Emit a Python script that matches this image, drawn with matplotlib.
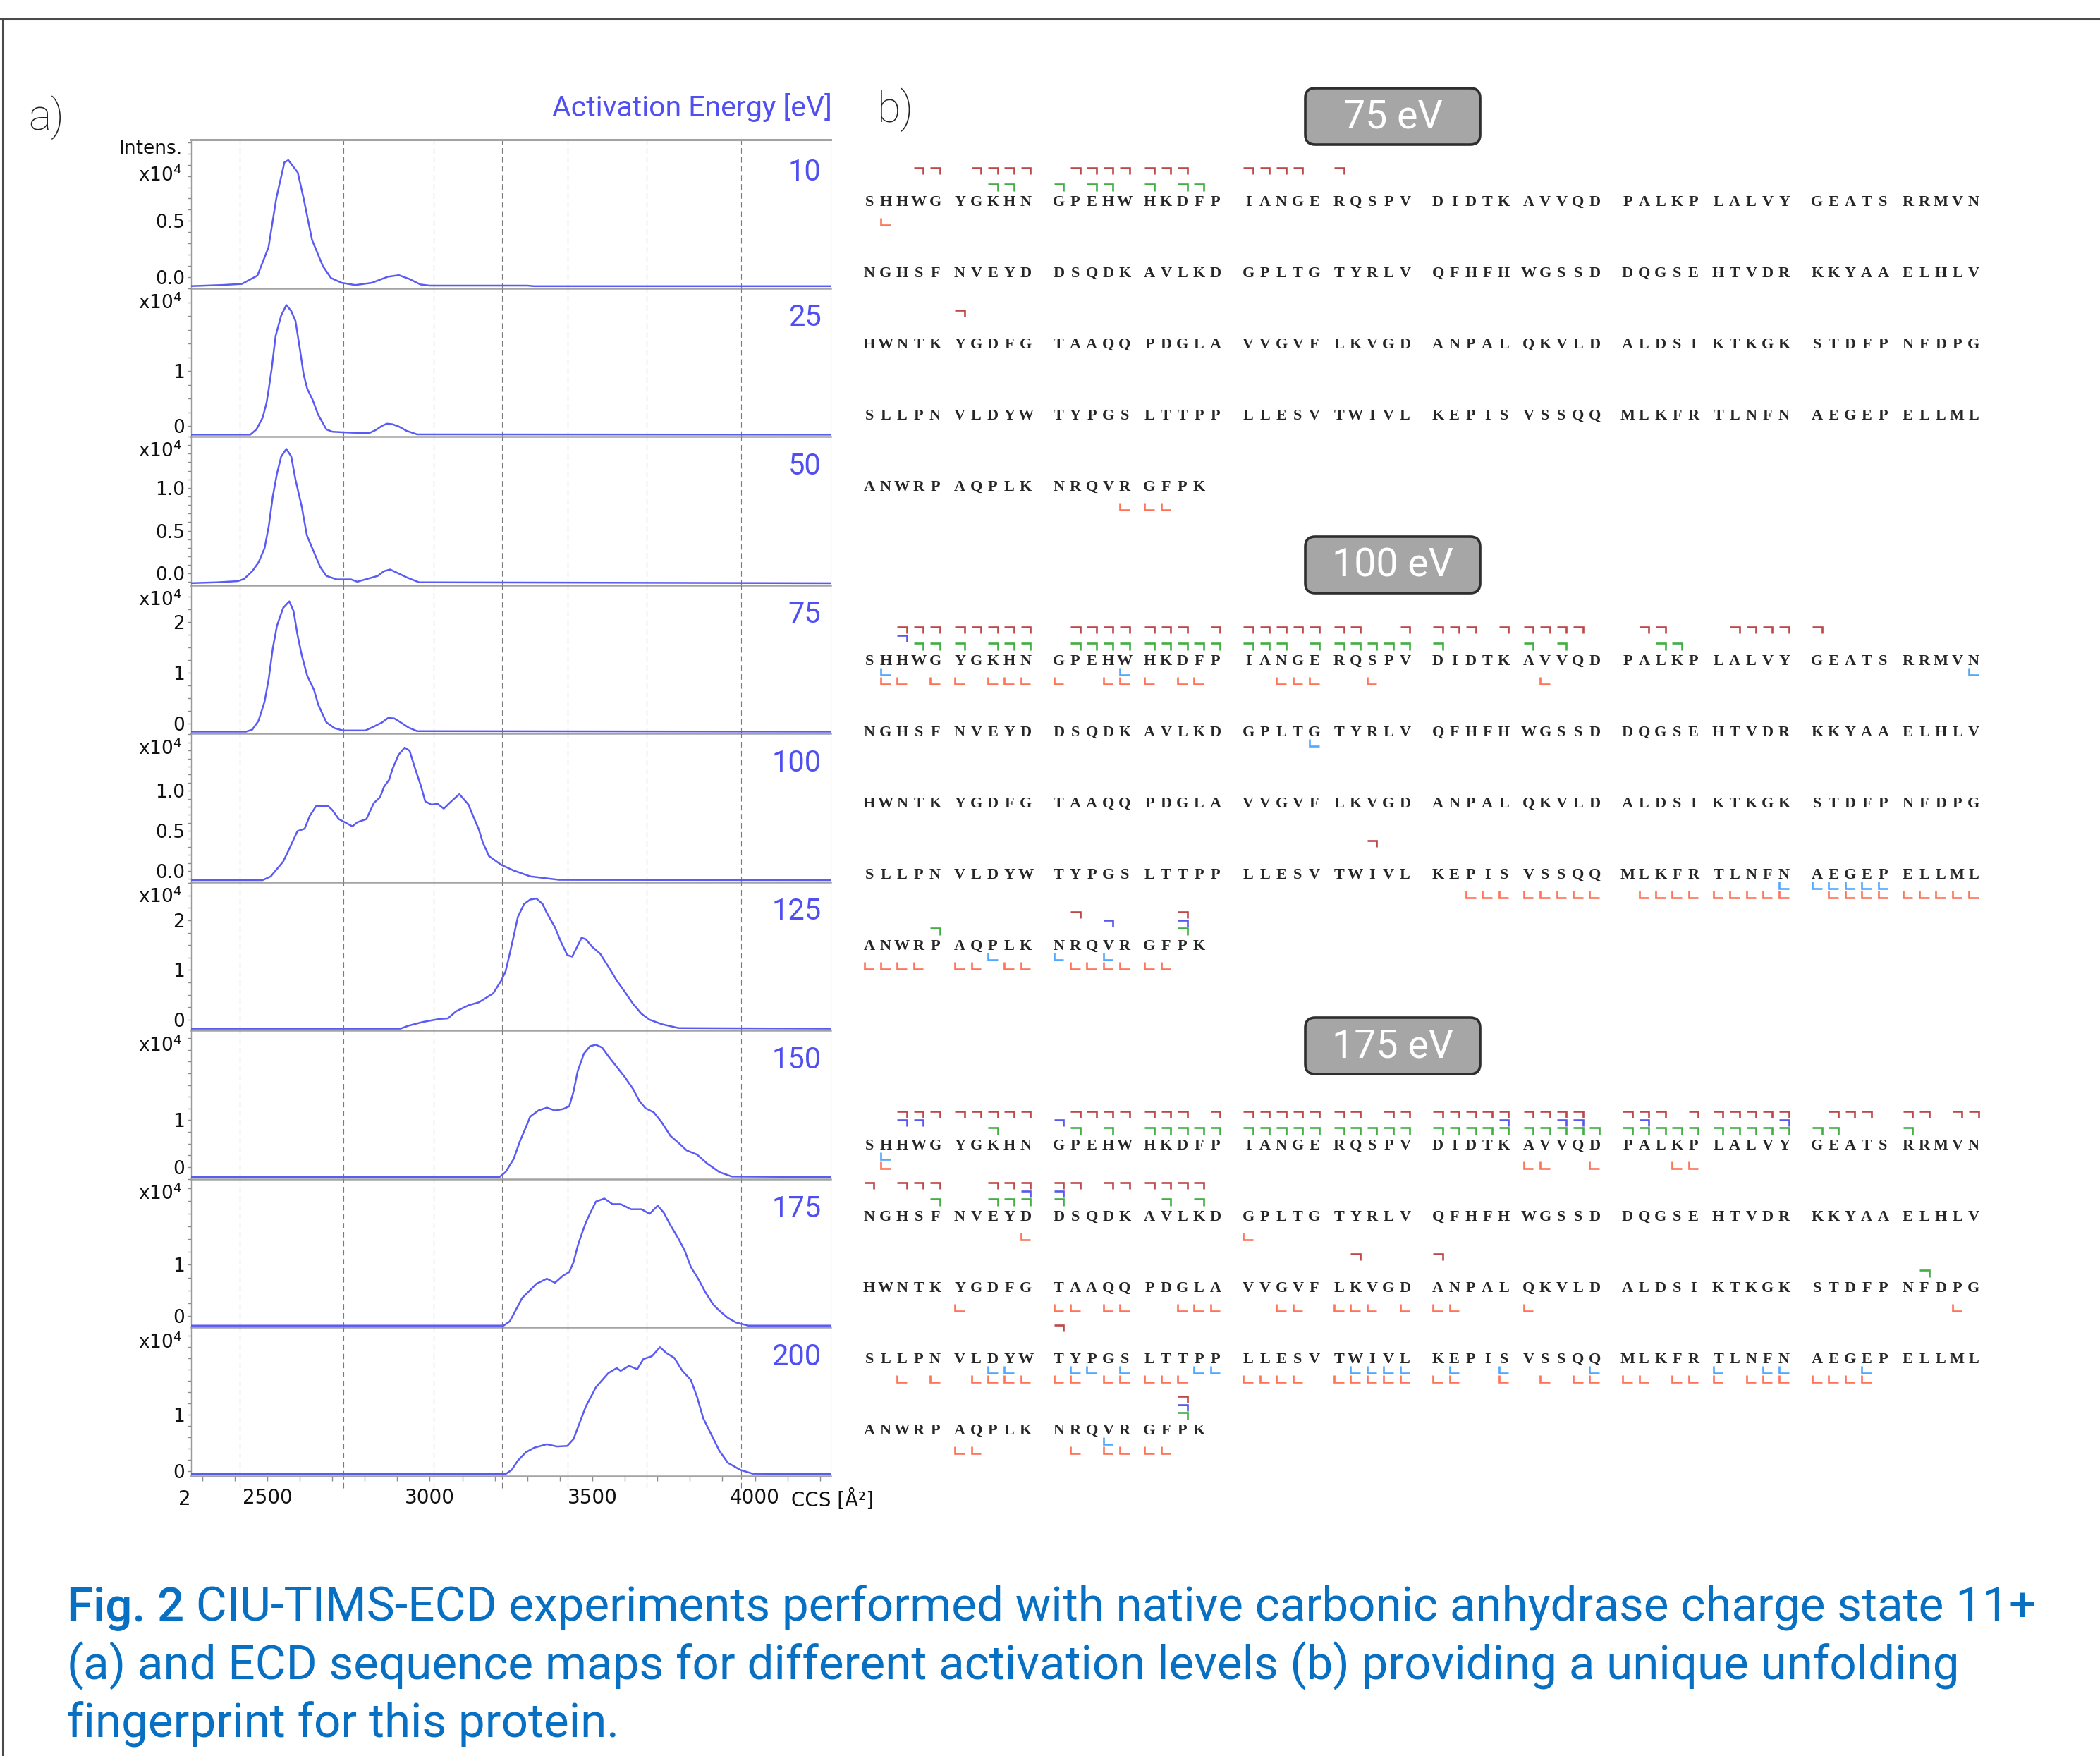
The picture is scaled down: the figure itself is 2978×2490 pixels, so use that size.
import numpy as np
import matplotlib
matplotlib.use("Agg")
import matplotlib.pyplot as plt
from matplotlib.collections import LineCollection
from matplotlib.patches import FancyBboxPatch
from matplotlib.lines import Line2D
from matplotlib.ticker import MultipleLocator

W, H = 2978, 2490
plt.rcParams['mathtext.default'] = 'regular'

# ---------------- a) CIU traces: CCS [A^2] / intensity above trace baseline [x1e4]
energies = [10, 25, 50, 75, 100, 125, 150, 175, 200]

ccs_10 = [2260, 2360, 2422, 2470, 2504, 2528, 2553, 2565, 2594, 2612, 2638, 2671,
          2696, 2729, 2771, 2822, 2871, 2905, 2938, 2971, 3000, 3300, 3320, 4240]
int_10 = [0, 0.01, 0.02, 0.094, 0.345, 0.78, 1.10, 1.12, 1.01, 0.78, 0.41, 0.18,
          0.073, 0.03, 0.01, 0.03, 0.084, 0.098, 0.063, 0.015, 0.005, 0.005, 0, 0]

ccs_25 = [2260, 2448, 2467, 2486, 2498, 2505, 2514, 2526, 2543, 2559, 2574, 2587,
          2600, 2612, 2623, 2640, 2657, 2682, 2701, 2733, 2777, 2815, 2834, 2853,
          2868, 2885, 2904, 2929, 2961, 4240]
int_25 = [0, 0, 0.096, 0.31, 0.58, 0.84, 1.21, 1.80, 2.17, 2.36, 2.25, 2.07,
          1.58, 1.10, 0.84, 0.63, 0.36, 0.096, 0.053, 0.043, 0.032, 0.032, 0.085, 0.16,
          0.20, 0.19, 0.15, 0.069, 0.005, 0]

ccs_50 = [2260, 2346, 2410, 2429, 2454, 2473, 2492, 2505, 2517, 2530, 2543, 2559,
          2574, 2587, 2606, 2622, 2644, 2663, 2682, 2714, 2758, 2777, 2802, 2840,
          2859, 2878, 2897, 2929, 2967, 4240]
int_50 = [0, 0.01, 0.024, 0.05, 0.14, 0.24, 0.41, 0.67, 1.01, 1.28, 1.48, 1.57,
          1.48, 1.21, 0.90, 0.56, 0.36, 0.19, 0.085, 0.044, 0.044, 0.017, 0.044, 0.085,
          0.14, 0.16, 0.126, 0.068, 0.01, 0]

ccs_75 = [2260, 2435, 2454, 2473, 2492, 2505, 2517, 2530, 2549, 2568, 2581, 2593,
          2606, 2623, 2644, 2657, 2682, 2707, 2733, 2802, 2828, 2853, 2872, 2891,
          2910, 2935, 2961, 4240]
int_75 = [0, 0, 0.04, 0.21, 0.59, 1.05, 1.63, 2.08, 2.43, 2.56, 2.37, 1.91,
          1.51, 1.10, 0.82, 0.53, 0.184, 0.069, 0.023, 0.023, 0.10, 0.18, 0.27, 0.26,
          0.184, 0.08, 0.01, 0]

ccs_100 = [2260, 2486, 2511, 2549, 2568, 2593, 2615, 2631, 2650, 2688, 2701, 2720,
           2739, 2762, 2777, 2805, 2828, 2847, 2859, 2875, 2885, 2904, 2923, 2938,
           2954, 2973, 2986, 3005, 3024, 3043, 3066, 3091, 3119, 3132, 3151, 3163,
           3182, 3220, 3258, 3309, 3360, 3398, 4240]
int_100 = [0, 0, 0.047, 0.23, 0.39, 0.61, 0.64, 0.80, 0.92, 0.92, 0.87, 0.76,
           0.72, 0.67, 0.72, 0.76, 0.96, 1.03, 1.16, 1.25, 1.38, 1.56, 1.65, 1.61,
           1.40, 1.17, 0.98, 0.94, 0.95, 0.89, 0.98, 1.07, 0.94, 0.81, 0.63, 0.47,
           0.30, 0.19, 0.12, 0.047, 0.022, 0.004, 0]

ccs_125 = [2260, 2910, 2935, 2980, 3030, 3056, 3081, 3119, 3151, 3195, 3220, 3233,
           3246, 3258, 3271, 3290, 3309, 3328, 3347, 3360, 3385, 3404, 3423, 3438,
           3451, 3467, 3480, 3499, 3524, 3550, 3575, 3600, 3625, 3651, 3676, 3714,
           3765, 4240]
int_125 = [0, 0, 0.06, 0.136, 0.195, 0.207, 0.35, 0.47, 0.53, 0.71, 0.97, 1.15,
           1.51, 1.86, 2.25, 2.51, 2.60, 2.62, 2.51, 2.33, 2.04, 1.74, 1.48, 1.45,
           1.62, 1.83, 1.80, 1.65, 1.51, 1.24, 0.97, 0.74, 0.50, 0.30, 0.18, 0.089,
           0.012, 0]

ccs_150 = [2260, 3214, 3233, 3258, 3277, 3296, 3309, 3334, 3360, 3385, 3410, 3429,
           3442, 3455, 3474, 3493, 3511, 3530, 3550, 3575, 3600, 3625, 3644, 3663,
           3689, 3714, 3740, 3765, 3790, 3822, 3853, 3891, 3929, 4240]
int_150 = [0, 0, 0.106, 0.387, 0.76, 1.07, 1.29, 1.42, 1.48, 1.42, 1.45, 1.51,
           1.82, 2.26, 2.63, 2.79, 2.82, 2.76, 2.57, 2.35, 2.13, 1.88, 1.63, 1.47,
           1.38, 1.16, 0.88, 0.73, 0.57, 0.48, 0.29, 0.106, 0.012, 0]

ccs_175 = [2260, 3227, 3246, 3265, 3284, 3303, 3328, 3360, 3385, 3410, 3429, 3442,
           3455, 3467, 3480, 3493, 3511, 3537, 3562, 3587, 3619, 3651, 3676, 3701,
           3720, 3739, 3765, 3784, 3803, 3828, 3847, 3872, 3891, 3917, 3942, 3980, 4240]
int_175 = [0, 0, 0.083, 0.31, 0.54, 0.66, 0.82, 0.92, 0.84, 0.98, 1.05, 1.24,
           1.56, 1.79, 2.02, 2.20, 2.43, 2.49, 2.38, 2.38, 2.28, 2.28, 2.19, 2.35,
           2.21, 1.98, 1.70, 1.47, 1.15, 0.89, 0.66, 0.41, 0.29, 0.15, 0.06, 0, 0]

ccs_200 = [2260, 3233, 3252, 3271, 3296, 3322, 3360, 3391, 3423, 3442, 3461, 3480,
           3511, 3549, 3575, 3587, 3613, 3638, 3657, 3683, 3708, 3727, 3752, 3777,
           3803, 3822, 3841, 3866, 3891, 3917, 3955, 3993, 4240]
int_200 = [0, 0, 0.075, 0.24, 0.39, 0.47, 0.53, 0.49, 0.50, 0.62, 0.91, 1.20,
           1.54, 1.79, 1.88, 1.83, 1.92, 1.86, 2.04, 2.09, 2.25, 2.15, 2.06, 1.83,
           1.67, 1.37, 0.99, 0.70, 0.41, 0.20, 0.075, 0.008, 0]

traces = [(ccs_10, int_10), (ccs_25, int_25), (ccs_50, int_50), (ccs_75, int_75),
          (ccs_100, int_100), (ccs_125, int_125), (ccs_150, int_150),
          (ccs_175, int_175), (ccs_200, int_200)]

# per-panel y range (x1e4) and tick labels
panel_ylim = [(-0.096, 1.223), (-0.193, 2.51), (-0.136, 1.60), (-0.197, 2.72),
              (-0.138, 1.71), (-0.22, 2.77), (-0.254, 2.91), (-0.229, 2.68),
              (-0.083, 2.55)]
panel_yticks = [[0.0, 0.5], [0, 1], [0.0, 0.5, 1.0], [0, 1, 2], [0.0, 0.5, 1.0],
                [0, 1, 2], [0, 1], [0, 1], [0, 1]]
panel_ylabels = [['0.0', '0.5'], ['0', '1'], ['0.0', '0.5', '1.0'], ['0', '1', '2'],
                 ['0.0', '0.5', '1.0'], ['0', '1', '2'], ['0', '1'], ['0', '1'], ['0', '1']]
panel_minor = [0.1, 0.25, 0.1, 0.25, 0.1, 0.25, 0.25, 0.25, 0.2]
guide_ccs = [2416, 2734, 3013, 3223, 3424, 3667, 3958]
ccs_ticks = list(range(2300, 4201, 100))

# ---------------- b) ECD sequence maps
seq_rows = ["SHHWGYGKHNGPEHWHKDFPIANGERQSPVDIDTKAVVQDPALKPLALVYGEATSRRMVN",
            "NGHSFNVEYDDSQDKAVLKDGPLTGTYRLVQFHFHWGSSDDQGSEHTVDRKKYAAELHLV",
            "HWNTKYGDFGTAAQQPDGLAVVGVFLKVGDANPALQKVLDALDSIKTKGKSTDFPNFDPG",
            "SLLPNVLDYWTYPGSLTTPPLLESVTWIVLKEPISVSSQQMLKFRTLNFNAEGEPELLML",
            "ANWRPAQPLKNRQVRGFPK"]
map_labels = ["75 eV", "100 eV", "175 eV"]

# fragment positions per row (residue index within row)
c_red_75 = [[3, 4, 6, 7, 8, 9, 11, 12, 13, 14, 15, 16, 17, 20, 21, 22, 23, 25], [], [5], [], []]
c_blue_75 = [[], [], [], [], []]
c_green_75 = [[7, 8, 10, 12, 13, 15, 17, 18], [], [], [], []]
z_blue_75 = [[], [], [], [], []]
z_red_75 = [[1], [], [], [], [14, 15, 16]]

c_red_100 = [[2, 3, 4, 5, 6, 7, 8, 9, 11, 12, 13, 14, 15, 16, 17, 19, 20, 21, 22, 23, 24, 25,
              26, 29, 30, 31, 32, 34, 35, 36, 37, 38, 41, 42, 46, 47, 48, 49, 50],
             [], [], [27], [11, 17]]
c_blue_100 = [[2], [], [], [], [13, 17]]
c_green_100 = [[3, 4, 5, 7, 8, 9, 11, 12, 13, 14, 15, 16, 17, 18, 19, 20, 21, 22, 24, 25, 26,
                27, 28, 29, 30, 35, 37, 42, 43], [], [], [], [4, 17]]
z_blue_100 = [[1, 14, 59], [24], [], [49, 50, 51, 52, 53, 54], [7, 10, 13]]
z_red_100 = [[1, 2, 4, 5, 7, 8, 9, 10, 13, 14, 15, 17, 18, 22, 23, 24, 27, 36], [], [],
             [32, 33, 34, 35, 36, 37, 38, 39, 41, 42, 43, 44, 45, 46, 47, 48, 49, 51, 52, 53,
              54, 55, 56, 57, 58, 59],
             [0, 1, 2, 3, 5, 6, 8, 9, 11, 12, 13, 14, 15, 16]]

c_red_175 = [[2, 3, 4, 5, 6, 7, 8, 9, 11, 12, 13, 14, 15, 16, 17, 19, 20, 21, 22, 23, 24, 25,
              26, 28, 29, 30, 31, 32, 33, 34, 35, 36, 37, 38, 40, 41, 42, 44, 45, 46, 47, 48,
              49, 51, 52, 53, 55, 56, 58, 59],
             [0, 2, 3, 4, 7, 8, 9, 10, 11, 13, 14, 15, 16, 17, 18], [26, 30], [10], [17]]
c_blue_175 = [[2, 3, 10, 34, 37, 38, 41, 49], [9, 10], [], [], [17]]
c_green_175 = [[7, 11, 13, 15, 16, 17, 18, 19, 20, 21, 22, 23, 24, 25, 26, 27, 28, 29, 30, 31,
                32, 33, 34, 35, 36, 37, 38, 39, 40, 41, 42, 43, 44, 45, 46, 47, 48, 49, 50,
                51, 55], [4, 7, 8, 9, 10, 16, 18], [56], [], [17]]
z_blue_175 = [[1], [], [], [7, 8, 11, 12, 14, 18, 19, 26, 27, 28, 29, 31, 34, 39, 45, 48, 49, 53],
              [13]]
z_red_175 = [[1, 35, 36, 39, 43, 44], [9, 20],
             [5, 10, 11, 13, 14, 17, 18, 19, 22, 23, 25, 26, 27, 29, 30, 31, 35, 58],
             [2, 4, 6, 7, 8, 9, 10, 11, 13, 14, 15, 16, 17, 20, 21, 22, 23, 25, 26, 27, 28, 29,
              30, 31, 34, 36, 38, 39, 40, 41, 43, 44, 45, 47, 48, 49, 50, 51, 52, 53],
             [5, 6, 11, 13, 14, 15, 16]]

fragments = [
    (c_red_75, c_blue_75, c_green_75, z_blue_75, z_red_75),
    (c_red_100, c_blue_100, c_green_100, z_blue_100, z_red_100),
    (c_red_175, c_blue_175, c_green_175, z_blue_175, z_red_175),
]

caption_lead = "Fig. 2"
caption_lines = [" CIU-TIMS-ECD experiments performed with native carbonic anhydrase charge state 11+",
                 "(a) and ECD sequence maps for different activation levels (b) providing a unique unfolding",
                 "fingerprint for this protein."]

# ---------------- figure
fig = plt.figure(figsize=(W / 100, H / 100), dpi=100)
fig.patch.set_facecolor('white')

ov = fig.add_axes([0, 0, 1, 1])
ov.set_xlim(0, W)
ov.set_ylim(H, 0)
ov.axis('off')

# frame
ov.add_line(Line2D([0, W], [27, 27], color='#4a4a4a', lw=2.2))
ov.add_line(Line2D([4, 4], [27, H], color='#4a4a4a', lw=2.2))

blue = '#4f4ff2'
roboto = ['Roboto', 'DejaVu Sans']
light = dict(family=roboto, fontweight='light')

ov.text(40, 167, 'a)', fontsize=44, va='center', ha='left', color='#222', **light)
ov.text(1244, 156, 'b)', fontsize=44, va='center', ha='left', color='#222', **light)
ov.text(1180, 152, 'Activation Energy [eV]', fontsize=29.5, ha='right', va='center',
        color=blue, family=roboto)

# ---- left stacked panels
x_lo, x_hi = 2266, 4233
left_px, right_px, top_px, bot_px = 271, 1178, 198, 2093
ph = (bot_px - top_px) / 9
tick_font = dict(family='DejaVu Sans', fontsize=20, color='#111')
ytick_font = dict(family='DejaVu Sans', fontsize=19, color='#111')

for i, (e, (xs, ys)) in enumerate(zip(energies, traces)):
    y0 = top_px + i * ph
    ax = fig.add_axes([left_px / W, 1 - (y0 + ph) / H, (right_px - left_px) / W, ph / H])
    lo, hi = panel_ylim[i]
    ax.set_xlim(x_lo, x_hi)
    ax.set_ylim(lo, hi)
    base = lo + 0.013 * (hi - lo)
    for g in guide_ccs:
        ax.axvline(g, color='#7a7a7a', lw=0.8, ls=(0, (7, 4.5)), zorder=1)
    ax.plot(xs, np.array(ys) + base, color='#5a5af4', lw=1.8, zorder=3,
            solid_joinstyle='round')

    for s in ['left', 'right', 'top', 'bottom']:
        ax.spines[s].set_visible(False)
    ax.spines['left'].set_visible(True)
    ax.spines['left'].set_color('#999999')
    ax.spines['left'].set_linewidth(1.0)
    ax.spines['right'].set_visible(True)
    ax.spines['right'].set_color('#cfcfcf')
    ax.spines['right'].set_linewidth(0.8)
    ax.spines['bottom'].set_visible(True)
    ax.spines['bottom'].set_color('#a3a3a3')
    ax.spines['bottom'].set_linewidth(1.8)
    if i == 0:
        ax.spines['top'].set_visible(True)
        ax.spines['top'].set_color('#a3a3a3')
        ax.spines['top'].set_linewidth(2.2)
    ax.set_zorder(2)
    ax.patch.set_alpha(0)

    ax.set_yticks(panel_yticks[i])
    ax.set_yticklabels(panel_ylabels[i], **ytick_font)
    ax.yaxis.set_minor_locator(MultipleLocator(panel_minor[i]))
    ax.tick_params(axis='y', which='both', direction='out', length=3.5, width=1.0,
                   color='#8a8a8a', pad=3)

    xlab_y = 0.76 if i == 0 else 0.90
    ax.text(-0.014, xlab_y, r'x10$^4$', transform=ax.transAxes, ha='right', va='center',
            **ytick_font)
    if i == 0:
        ax.text(-0.014, 0.94, 'Intens.', transform=ax.transAxes, ha='right', va='center',
                **ytick_font)
    ax.text(0.985, 0.78 if i == 0 else 0.80, str(e), transform=ax.transAxes, ha='right',
            va='center', color=blue, fontsize=30, family=roboto)

    if i == 8:
        ax.set_xticks(ccs_ticks)
        ax.set_xticklabels([str(t) if t % 500 == 0 else '' for t in ccs_ticks], **tick_font)
        ax.tick_params(axis='x', direction='out', length=5, width=1.0, color='#8a8a8a', pad=7)
        # guide lines run a little past the axis into the tick band
        ax.vlines(guide_ccs, lo - 0.08 * (hi - lo), lo, colors='#7a7a7a', lw=0.8,
                  linestyles=(0, (7, 4.5)), clip_on=False)
    else:
        ax.set_xticks([])

ov.text(262, 2126, '2', ha='center', va='center', **tick_font)
ov.text(1122, 2126, 'CCS [Å²]', ha='left', va='center', **tick_font)

# ---- sequence maps (pixel coordinates on the overlay)
seq_x0, pitch = 1232.5, 23.38
row_step = 101
box_y = [165, 801, 1483]
row0_y = [287, 938, 1625]
mark_w = 0.29 * pitch
# (colour, y of horizontal, y of vertical end, is_top)
mark_style = [('#b22828', -49, -40, True), ('#3b3bea', -37, -28, True),
              ('#23a023', -26, -16, True), ('#3399ff', 19, 9, False),
              ('#ff5a3c', 32, 22, False)]


def res_x(j):
    b, k = divmod(j, 10)
    return seq_x0 + pitch * (11.5 * b + k + (0.5 if k >= 5 else 0.0))


for s, label in enumerate(map_labels):
    by = box_y[s]
    ov.add_patch(FancyBboxPatch((1851, by - 40), 248, 80,
                                boxstyle='round,pad=0,rounding_size=14',
                                fc='#a6a6a6', ec='#2e2e2e', lw=2.6, zorder=2))
    ov.text(1975, by + 1, label, ha='center', va='center', color='white', fontsize=40,
            zorder=3, family=roboto)
    for r, seq in enumerate(seq_rows):
        ry = row0_y[s] + r * row_step
        for j, ch in enumerate(seq):
            ov.text(res_x(j), ry, ch, ha='center', va='center', fontsize=16,
                    family=['Liberation Serif', 'DejaVu Serif'], fontweight='bold',
                    color='#262626')
    for (color, yh, yv, is_top), rows in zip(mark_style, fragments[s]):
        segs = []
        for r, pos in enumerate(rows):
            ry = row0_y[s] + r * row_step
            for j in pos:
                xc = res_x(j)
                if is_top:
                    segs.append([(xc - mark_w, ry + yh), (xc + mark_w, ry + yh),
                                 (xc + mark_w, ry + yv)])
                else:
                    segs.append([(xc - mark_w, ry + yv), (xc - mark_w, ry + yh),
                                 (xc + mark_w, ry + yh)])
        ov.add_collection(LineCollection(segs, colors=color, linewidths=1.9, alpha=0.85,
                                         capstyle='butt', joinstyle='miter'))

# ---- caption
cap_color = '#0870c2'
cap_y = [2299, 2382, 2464]
lead = ov.text(95, cap_y[0], caption_lead, fontsize=48.5, color=cap_color, ha='left',
               va='baseline', family=roboto, fontweight='medium')
ov.annotate(caption_lines[0], xy=(1, 0), xycoords=lead, ha='left', va='bottom',
            fontsize=48.5, color=cap_color, family=roboto)
for k in (1, 2):
    ov.text(95, cap_y[k], caption_lines[k], fontsize=48.5, color=cap_color, ha='left',
            va='baseline', family=roboto)

fig.savefig('out.png', dpi=100)
